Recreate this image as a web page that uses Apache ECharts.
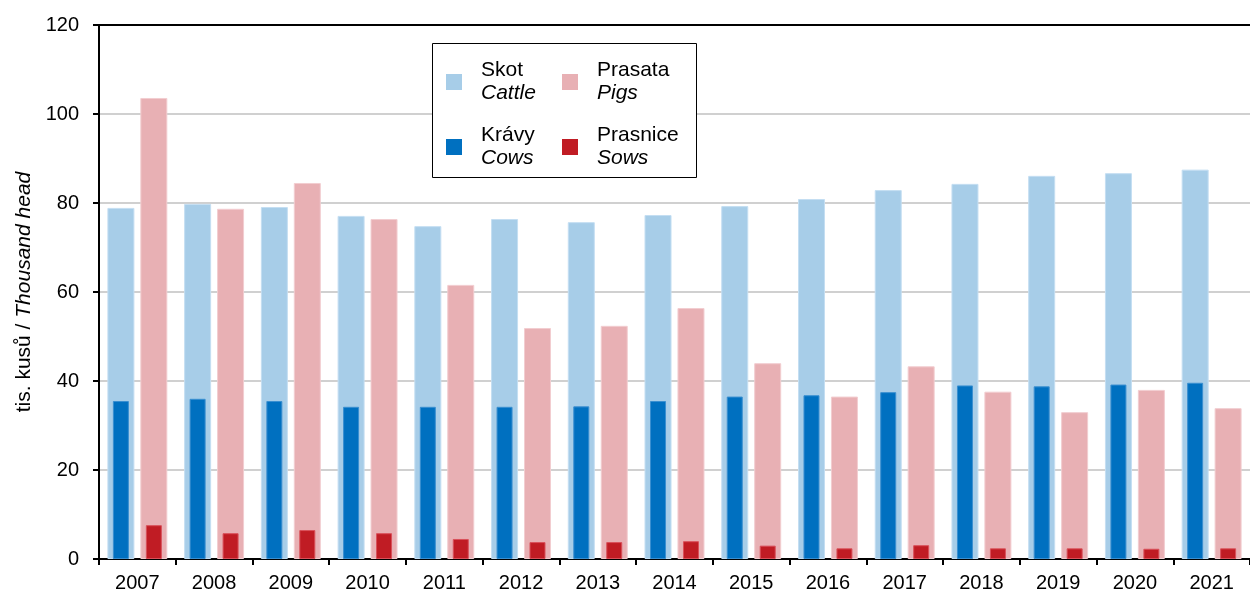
<!DOCTYPE html>
<html>
<head>
<meta charset="utf-8">
<script src="https://cdn.jsdelivr.net/npm/echarts@6/dist/echarts.min.js"></script>
<style>
html,body{margin:0;padding:0;background:#fff;}
#chart{width:1250px;height:594px;}
</style>
</head>
<body>
<div id="chart"></div>
<script>
const years = ['2007','2008','2009','2010','2011','2012','2013','2014','2015','2016','2017','2018','2019','2020','2021'];
const skot = [78.9, 79.8, 79.1, 77.1, 74.8, 76.4, 75.7, 77.3, 79.3, 80.9, 82.9, 84.3, 86.1, 86.7, 87.5];
const prasata = [103.6, 78.7, 84.5, 76.4, 61.6, 51.9, 52.4, 56.4, 44.0, 36.5, 43.3, 37.6, 33.0, 38.0, 33.9];
const kravy = [35.5, 36.0, 35.5, 34.2, 34.2, 34.2, 34.3, 35.5, 36.5, 36.8, 37.5, 39.0, 38.8, 39.2, 39.6];
const prasnice = [7.6, 5.8, 6.5, 5.8, 4.5, 3.8, 3.8, 4.0, 3.0, 2.4, 3.1, 2.4, 2.4, 2.3, 2.4];
const yTicks = [0, 20, 40, 60, 80, 100, 120];

const FONT = "'Liberation Sans', Arial, sans-serif";
const C_SKOT = '#a7cde8', C_KRAVY = '#0070c0', C_PRASATA = '#e8b0b4', C_PRASNICE = '#c01c24';

const chart = echarts.init(document.getElementById('chart'), null, {renderer: 'canvas'});

function legendItem(name, cz, en, left, top) {
  return {
    data: [name], left: left, top: top, padding: 0, itemWidth: 16, itemHeight: 16,
    selectedMode: false, icon: 'rect',
    itemStyle: {borderWidth: 0},
    formatter: () => '{a|' + cz + '}\n{b|' + en + '}',
    textStyle: {
      padding: [0, 0, 0, 14],
      rich: {
        a: {fontFamily: FONT, fontSize: 21, color: '#000', lineHeight: 23},
        b: {fontFamily: FONT, fontSize: 21, color: '#000', lineHeight: 23, fontStyle: 'italic'}
      }
    }
  };
}

const option = {
  animation: false,
  backgroundColor: '#fff',
  textStyle: {fontFamily: FONT},
  grid: {left: 99, top: 25, height: 534, width: 1160},
  graphic: [{
    type: 'rect', z: 3,
    shape: {x: 432.5, y: 43.5, width: 264, height: 134},
    style: {fill: '#fff', stroke: '#000', lineWidth: 1}
  }],
  legend: [
    legendItem('Skot', 'Skot', 'Cattle', 446, 60),
    legendItem('Prasata', 'Prasata', 'Pigs', 562, 60),
    legendItem('Krávy', 'Krávy', 'Cows', 446, 125),
    legendItem('Prasnice', 'Prasnice', 'Sows', 562, 125)
  ],
  xAxis: [{
    type: 'category', data: years, position: 'bottom',
    axisLine: {lineStyle: {color: '#000', width: 2}},
    axisTick: {show: true, length: 6, lineStyle: {color: '#000', width: 2}},
    axisLabel: {color: '#000', fontSize: 20, fontFamily: FONT, margin: 14}
  }, {
    type: 'category', data: years, position: 'top',
    axisLine: {show: true, lineStyle: {color: '#000', width: 2}},
    axisTick: {show: false}, axisLabel: {show: false}
  }],
  yAxis: {
    type: 'value', min: yTicks[0], max: yTicks[yTicks.length - 1], interval: 20,
    name: 'tis. kusů / {i|Thousand head}',
    nameLocation: 'middle', nameGap: 64,
    nameTextStyle: {color: '#000', fontSize: 21, fontFamily: FONT,
      rich: {i: {fontStyle: 'italic', fontSize: 21, fontFamily: FONT, color: '#000'}}},
    axisLine: {show: true, lineStyle: {color: '#000', width: 2}},
    axisTick: {show: true, length: 6, lineStyle: {color: '#000', width: 2}},
    axisLabel: {color: '#000', fontSize: 20, fontFamily: FONT, margin: 20},
    splitLine: {show: true, lineStyle: {color: '#d0d0d0', width: 2}}
  },
  series: [
    {name: 'Skot', type: 'bar', xAxisIndex: 0, data: skot, barWidth: 27, barGap: '22%',
      itemStyle: {color: C_SKOT, borderColor: '#c4def2', borderWidth: 1}},
    {name: 'Prasata', type: 'bar', xAxisIndex: 0, data: prasata, barWidth: 27, barGap: '22%',
      itemStyle: {color: C_PRASATA, borderColor: '#f2cdd0', borderWidth: 1}},
    {name: 'Krávy', type: 'bar', xAxisIndex: 1, data: kravy, barWidth: 16, barGap: '106%', z: 3,
      itemStyle: {color: C_KRAVY, borderColor: '#3a8fd0', borderWidth: 1}},
    {name: 'Prasnice', type: 'bar', xAxisIndex: 1, data: prasnice, barWidth: 16, barGap: '106%', z: 3,
      itemStyle: {color: C_PRASNICE, borderColor: '#d9505a', borderWidth: 1}}
  ]
};
chart.setOption(option);
</script>
</body>
</html>
